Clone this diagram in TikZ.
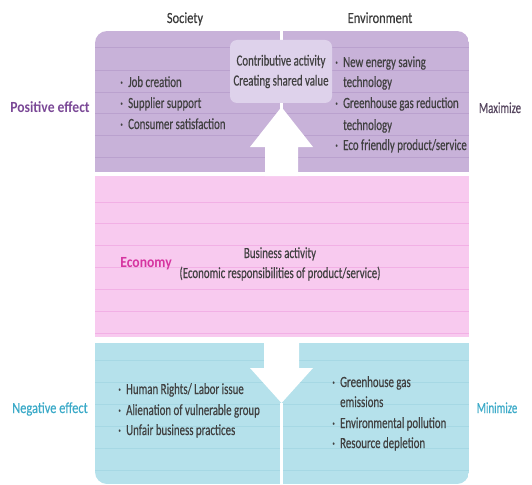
\documentclass[tikz,border=0pt]{standalone}
\usepackage{fontspec}
\setmainfont{Carlito}[FakeStretch=0.7, FakeBold=0.4]
\newfontfamily\sidefont{Carlito}[FakeStretch=0.8, FakeBold=0.4]
\newfontfamily\posfont{Carlito}[FakeStretch=0.88]
\definecolor{pfill}{HTML}{C8B2D9}
\definecolor{pstripe}{HTML}{BAA1CE}
\definecolor{cfill}{HTML}{DED2EB}
\definecolor{kfill}{HTML}{F8CAEF}
\definecolor{kstripe}{HTML}{F2B0E5}
\definecolor{bfill}{HTML}{B5E1EB}
\definecolor{bstripe}{HTML}{A6D8E4}
\definecolor{bodygray}{HTML}{404040}
\definecolor{headgray}{HTML}{3A3A3A}
\definecolor{posc}{HTML}{7A4896}
\definecolor{maxc}{HTML}{56465F}
\definecolor{ecoc}{HTML}{D634A0}
\definecolor{negc}{HTML}{3CAAC8}
\newcommand{\bul}{\makebox[8pt][l]{·}}
\begin{document}
\begin{tikzpicture}[x=1pt,y=-1pt,
  body/.style={font=\fontsize{15.5}{18}\selectfont, text=bodygray, inner sep=0pt, anchor=base west},
  head/.style={font=\sidefont\fontsize{15.5}{18}\selectfont, text=headgray, inner sep=0pt, anchor=base},
  mid/.style={font=\fontsize{15.5}{18}\selectfont, text=bodygray, inner sep=0pt, anchor=base},
  side/.style={font=\sidefont\fontsize{15.5}{18}\selectfont, inner sep=0pt, anchor=base},
  callout/.style={fill=cfill, rounded corners=7pt, minimum width=102pt, minimum height=63pt,
     inner sep=0pt, align=center, font=\fontsize{15.5}{20}\selectfont, text=bodygray}]
\useasboundingbox (0,0) rectangle (532,484);
% top purple panel
\begin{scope}
  \clip[rounded corners=12pt] (95,31) rectangle (469,200);
  \clip (95,31) rectangle (469,172);
  \fill[pfill] (95,31) rectangle (469,172);
  \foreach \yy in {48,71,93,114,135,157}
    \draw[pstripe, line width=1pt] (95,\yy) -- (469,\yy);
\end{scope}
\fill[white] (280,31) rectangle (283,172);
% middle pink panel
\fill[kfill] (95,176) rectangle (469,337);
\foreach \yy in {202,223,245,267,289,311,333}
  \draw[kstripe, line width=1pt] (95,\yy) -- (469,\yy);
% bottom blue panel
\begin{scope}
  \clip[rounded corners=12pt] (95,320) rectangle (469,484);
  \clip (95,343) rectangle (469,484);
  \fill[bfill] (95,343) rectangle (469,484);
  \foreach \yy in {360,382,404,426,448,470}
    \draw[bstripe, line width=1pt] (95,\yy) -- (469,\yy);
\end{scope}
\fill[white] (280,403) rectangle (283,484);
% arrows
\fill[white] (265,176) -- (265,147) -- (250,147) -- (281.5,107) -- (313,147) -- (298,147) -- (298,176) -- cycle;
\fill[white] (264,343) -- (264,368) -- (250,368) -- (281.5,403) -- (313,368) -- (299,368) -- (299,343) -- cycle;
% callout
\node[callout] (cb) at (281,71.5) {Contributive activity\\Creating shared value};
% headers
\node[head] (soc) at (185,23) {Society};
\node[head] (env) at (380,23) {Environment};
% side labels
\node[side, text=posc, font=\posfont\bfseries\fontsize{15.5}{18}\selectfont] (pos) at (50,113) {Positive effect};
\node[side, text=maxc, font=\fontsize{15.5}{18}\selectfont] (max) at (500,113) {Maximize};
\node[side, text=ecoc, font=\posfont\bfseries\fontsize{15.5}{18}\selectfont] (eco) at (146,267) {Economy};
\node[side, text=negc] (neg) at (50,413) {Negative effect};
\node[side, text=negc, font=\fontsize{15.5}{18}\selectfont] (min) at (497,413) {Minimize};
% top left
\node[body] (t1) at (120,87) {\bul Job creation};
\node[body] (t2) at (120,108) {\bul Supplier support};
\node[body] (t3) at (120,129) {\bul Consumer satisfaction};
% top right
\node[body] (r1) at (335,67) {\bul New energy saving};
\node[body] (r2) at (343,87) {technology};
\node[body] (r3) at (335,108) {\bul Greenhouse gas reduction};
\node[body] (r4) at (343,130) {technology};
\node[body] (r5) at (335,150) {\bul Eco friendly product/service};
% middle
\node[mid] (b1) at (280,258) {Business activity};
\node[mid] (b2) at (280,278) {(Economic responsibilities of product/service)};
% bottom left
\node[body] (n1) at (118,394) {\bul Human Rights/ Labor issue};
\node[body] (n2) at (118,415) {\bul Alienation of vulnerable group};
\node[body] (n3) at (118,435) {\bul Unfair business practices};
% bottom right
\node[body] (m1) at (332,387) {\bul Greenhouse gas};
\node[body] (m2) at (340,407) {emissions};
\node[body] (m3) at (332,428) {\bul Environmental pollution};
\node[body] (m4) at (332,448) {\bul Resource depletion};
\end{tikzpicture}
\end{document}
